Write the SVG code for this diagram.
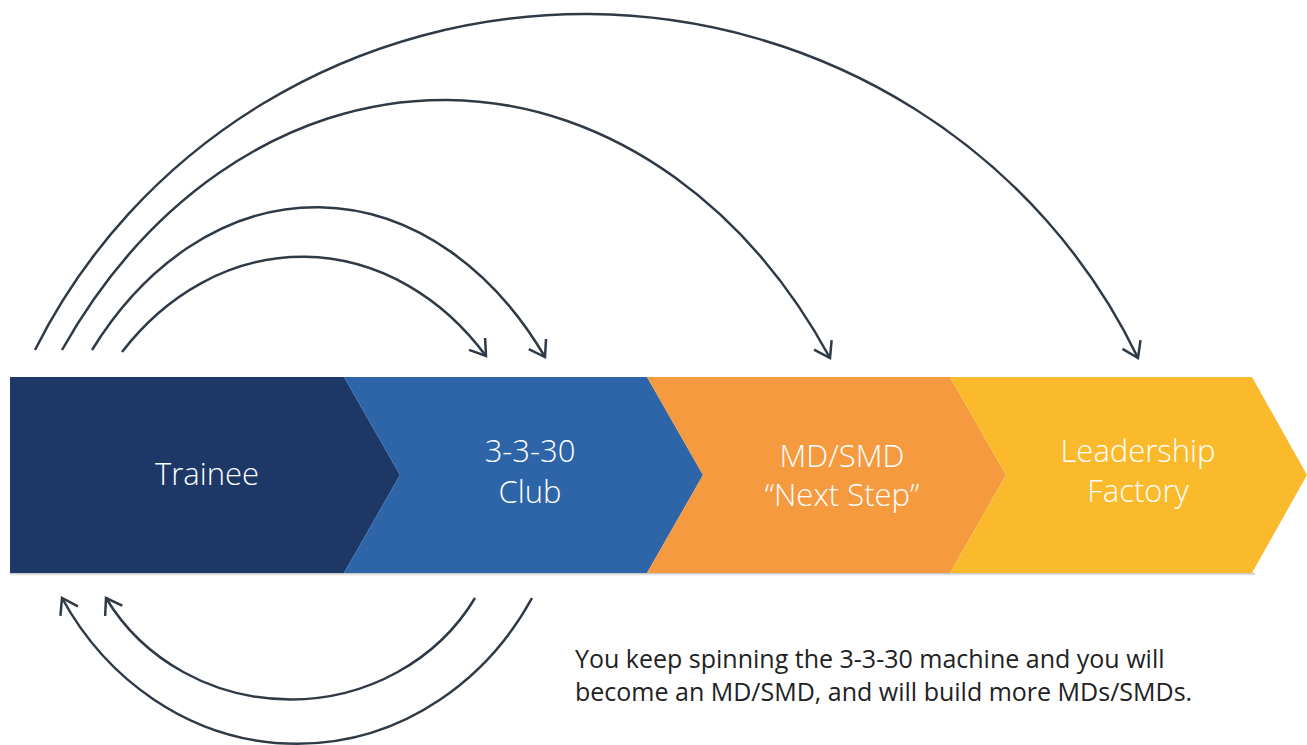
<svg xmlns="http://www.w3.org/2000/svg" width="1307" height="745" viewBox="0 0 1307 745">
<style>
.lbl{font-family:"Open Sans","Liberation Sans",sans-serif;font-weight:300;font-size:31px;fill:#ffffff;text-anchor:middle}
.cap{font-family:"Open Sans","Liberation Sans",sans-serif;font-weight:400;font-size:25px;fill:#222222}
.arc{fill:none;stroke:#2f3a47;stroke-width:2.5;marker-end:url(#ah)}
</style>
<defs>
<marker id="ah" markerUnits="userSpaceOnUse" markerWidth="40" markerHeight="40" refX="0" refY="0" orient="auto" overflow="visible">
<path d="M -15,-10 L 0,0 L -15,10" fill="none" stroke="#2f3a47" stroke-width="2.5" stroke-linejoin="miter"/>
</marker>
<linearGradient id="sh" x1="0" y1="0" x2="0" y2="1">
<stop offset="0" stop-color="#9a9a9a" stop-opacity="0.7"/>
<stop offset="1" stop-color="#ffffff" stop-opacity="0"/>
</linearGradient>
</defs>
<rect x="10" y="573" width="1245" height="4" fill="url(#sh)"/>
<g id="node-trainee">
<polygon points="10,377 344,377 400,475 344,573 10,573" fill="#1d3767"/>
<text class="lbl" x="207" y="485">Trainee</text>
</g>
<g id="node-club">
<polygon points="344,377 647,377 703,475 647,573 344,573 400,475" fill="#2e65a8"/>
<text class="lbl" x="530" y="462">3-3-30</text>
<text class="lbl" x="530" y="503">Club</text>
</g>
<g id="node-mdsmd">
<polygon points="647,377 950,377 1006,475 950,573 647,573 703,475" fill="#f59a3f"/>
<text class="lbl" x="842" y="467">MD/SMD</text>
<text class="lbl" x="842" y="506">“Next Step”</text>
</g>
<g id="node-leadership">
<polygon points="950,377 1252,377 1307,475 1252,573 950,573 1006,475" fill="#fbba2c"/>
<text class="lbl" x="1138" y="462">Leadership</text>
<text class="lbl" x="1138" y="502">Factory</text>
</g>
<g id="connectors">
<path class="arc" d="M 35,350 A 612 600 0 0 1 1138,358"/>
<path class="arc" d="M 62,350 A 470 600 0 0 1 830,358"/>
<path class="arc" d="M 92,350 A 293 400 0 0 1 545,357"/>
<path class="arc" d="M 122,352 A 247 300 0 0 1 486,356"/>
<path class="arc" d="M 475,598 A 212 200 0 0 1 106,598"/>
<path class="arc" d="M 532,598 A 274 300 0 0 1 62,598"/>
</g>
<g id="caption">
<text class="cap" x="575" y="668">You keep spinning the 3-3-30 machine and you will</text>
<text class="cap" x="575" y="701">become an MD/SMD, and will build more MDs/SMDs.</text>
</g>
</svg>
